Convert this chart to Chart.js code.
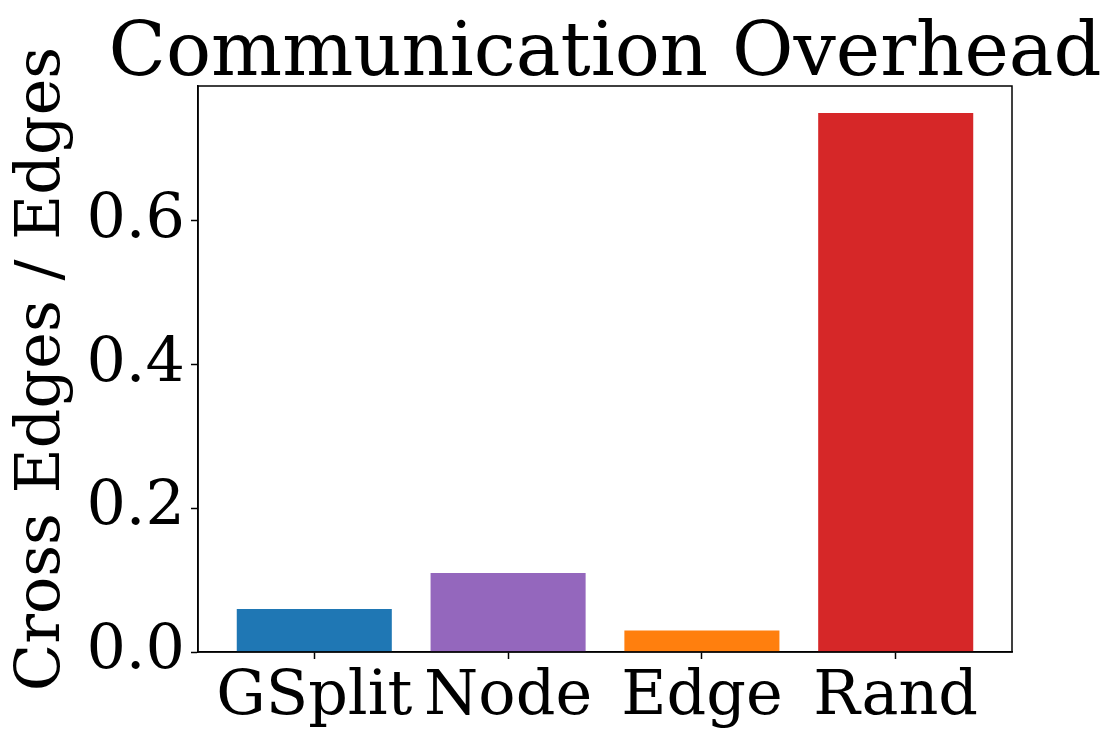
<!DOCTYPE html>
<html>
<head>
<meta charset="utf-8">
<title>Communication Overhead</title>
<script src="https://cdn.jsdelivr.net/npm/chart.js@4.4.1/dist/chart.umd.min.js"></script>
<style>
    html, body { margin: 0; padding: 0; background: #ffffff; }
    canvas { display: block; }
</style>
</head>
<body>
<canvas id="overheadChart" width="1120" height="743"></canvas>
<script>
// Data
const categories = ['GSplit', 'Node', 'Edge', 'Rand'];
const ratios = [0.06, 0.11, 0.03, 0.75];
const barColors = ['#1f77b4', '#9467bd', '#ff7f0e', '#d62728'];
const yTicks = [0.0, 0.2, 0.4, 0.6];
const chartTitle = 'Communication Overhead';

const FONT = "'DejaVu Serif', serif";

// Draw the full box around the axes and the title centred over the plot area
const frameBox = {
    id: 'frameBox',
    afterDraw(chart) {
        const { ctx, chartArea } = chart;
        ctx.save();
        ctx.strokeStyle = '#000000';
        ctx.lineWidth = 1.5;
        ctx.strokeRect(chartArea.left, chartArea.top, chartArea.right - chartArea.left, chartArea.bottom - chartArea.top);

        ctx.fillStyle = '#000000';
        ctx.font = `75px ${FONT}`;
        ctx.textAlign = 'center';
        ctx.textBaseline = 'alphabetic';
        ctx.fillText(chartTitle, (chartArea.left + chartArea.right) / 2, chartArea.top - 11);
        ctx.restore();
    }
};

const ctx = document.getElementById('overheadChart').getContext('2d');

new Chart(ctx, {
    type: 'bar',
    data: {
        datasets: [{
            data: categories.map((c, i) => ({ x: i, y: ratios[i] })),
            backgroundColor: barColors,
            borderWidth: 0,
            barPercentage: 0.8,
            categoryPercentage: 1.0
        }]
    },
    options: {
        responsive: false,
        animation: false,
        layout: {
            padding: { left: 0, right: 108, top: 86, bottom: 0 }
        },
        plugins: {
            legend: { display: false },
            tooltip: { enabled: false },
            title: { display: false }
        },
        scales: {
            x: {
                type: 'linear',
                min: -0.6,
                max: 3.6,
                offset: false,
                afterBuildTicks: (axis) => {
                    axis.ticks = categories.map((c, i) => ({ value: i }));
                },
                afterFit: (axis) => { axis.height = 91; },
                grid: {
                    display: true,
                    offset: false,
                    drawOnChartArea: false,
                    drawTicks: true,
                    tickLength: 7,
                    tickWidth: 1.5,
                    color: '#000000'
                },
                border: { display: true, color: '#000000', width: 1.5 },
                ticks: {
                    color: '#000000',
                    padding: 2,
                    maxRotation: 0,
                    autoSkip: false,
                    font: { family: FONT, size: 62 },
                    callback: (value) => categories[value]
                }
            },
            y: {
                min: 0,
                max: 0.7875,
                afterBuildTicks: (axis) => {
                    axis.ticks = yTicks.map(v => ({ value: v }));
                },
                afterFit: (axis) => { axis.width = 198; },
                grid: {
                    display: true,
                    drawOnChartArea: false,
                    drawTicks: true,
                    tickLength: 7,
                    tickWidth: 1.5,
                    color: '#000000'
                },
                border: { display: true, color: '#000000', width: 1.5 },
                ticks: {
                    color: '#000000',
                    padding: 6,
                    font: { family: FONT, size: 62 },
                    callback: (value) => value.toFixed(1)
                },
                title: {
                    display: true,
                    text: 'Cross Edges / Edges',
                    color: '#000000',
                    font: { family: FONT, size: 62 },
                    padding: { top: 6, bottom: 0 }
                }
            }
        }
    },
    plugins: [frameBox]
});
</script>
</body>
</html>
